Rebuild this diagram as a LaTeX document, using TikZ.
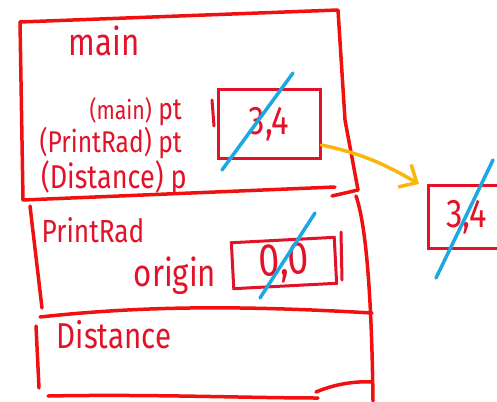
\documentclass[tikz,border=0pt]{standalone}
\usepackage{fontspec}
\setmainfont{Fira Sans}[FakeStretch=0.82]
\usetikzlibrary{arrows.meta,positioning}
\definecolor{framered}{RGB}{240,16,16}
\definecolor{inkred}{RGB}{226,18,40}
\definecolor{strikeblue}{RGB}{28,168,226}
\definecolor{ptryellow}{RGB}{250,182,10}
\tikzset {
  frame line/.style = {
    draw=framered,
    line width=3.5pt,
    line cap=round,
    line join=round
  },
  value box/.style = {
    draw=inkred,
    line width=3pt,
    inner sep=0pt,
    text=inkred,
    font=\fontsize{40}{44}\selectfont
  },
  value line/.style = {draw=inkred, line width=3pt, line cap=round},
  frame label/.style = {
    text=inkred,
    inner sep=0pt,
    font=\fontsize{#1}{#1}\selectfont
  },
  frame label/.default = 30,
  strike/.style = {draw=strikeblue, line width=3.5pt, line cap=round},
  ptr arrow/.style = {
    draw=ptryellow,
    line width=3.5pt,
    line cap=round,
    -{Straight Barb[length=14pt,width=26pt]}
  }
}

\begin{document}
\begin{tikzpicture}[x=1pt, y=-1pt]

\useasboundingbox (0,0) rectangle (497,401);

% --- main frame ---
\draw[frame line] (20,22) -- (338,10) -- (345,120) -- (358,190);
\draw[frame line] (20,22) -- (23,200) -- (335,187);
\draw[frame line] (332,196) -- (358,190);

\node[frame label=38] (mainname) at (104,41) {main};
\node[frame label, anchor=east] (mainpt) at (182,112) {{\fontsize{26}{26}\selectfont(main)} pt};
\node[frame label, anchor=east] (printpt) at (182,143) {(PrintRad) pt};
\node[frame label=33, anchor=east] (distp) at (187,178) {(Distance) p};

\node[value box, minimum width=102pt, minimum height=68pt] (ptbox) at (269,124) {3,4};
\draw[value line] (212,100) -- (214,126);

% --- PrintRad frame ---
\draw[frame line] (30,206) -- (42,308);
\draw[frame line] (356,196) .. controls (368,230) and (372,320) .. (373,401);
\draw[frame line] (40,317) .. controls (150,305) and (250,306) .. (372,313);

\node[frame label=32] (printname) at (93,230) {PrintRad};
\node[frame label=38] (originname) at (175,276) {origin};

\node[value box, font=\fontsize{46}{48}\selectfont, minimum width=103pt, minimum height=46pt, rotate=3] (originbox) at (284,263) {0,0};
\draw[value line] (341,232) -- (342,280);

% --- Distance frame ---
\draw[frame line] (36,326) -- (39,388);
\draw[frame line] (48,396) .. controls (150,394) and (250,398) .. (318,398);
\draw[frame line] (316,392) .. controls (335,384) and (355,381) .. (372,382);

\node[frame label=36] (distname) at (114,335) {Distance};

% --- heap ---
\node[value box, minimum width=76pt, minimum height=63pt, anchor=north west] (heapbox) at (427,184) {3,4};

\draw[ptr arrow] ([yshift=-21pt]ptbox.east) to[out=-12, in=150] ([xshift=-8pt]heapbox.north west);

% --- crossed out ---
\draw[strike] (222,170) -- (293,73);
\draw[strike] (260,298) -- (315,213);
\draw[strike] (436,278) -- (493,160);

\end{tikzpicture}
\end{document}
